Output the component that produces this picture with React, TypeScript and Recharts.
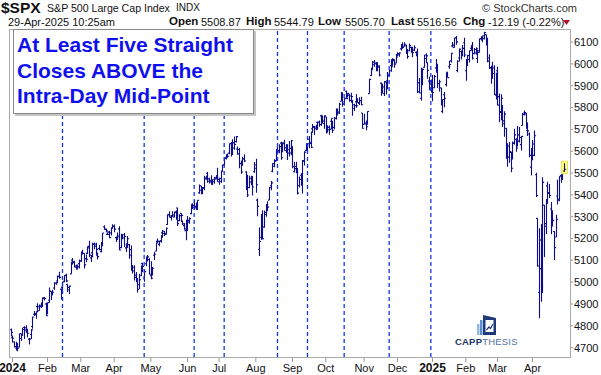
import React from 'react'
import { ComposedChart, Bar, XAxis, YAxis, ReferenceLine } from 'recharts'

// daily OHLC, [day, open, high, low, close]
const DEC_2023 = [[29, 4782, 4788, 4751, 4770]]
const JAN_2024 = [
  [2, 4745, 4755, 4723, 4743], [3, 4726, 4729, 4700, 4705], [4, 4698, 4727, 4688, 4689], [5, 4690, 4721, 4683, 4697],
  [8, 4703, 4764, 4700, 4764], [9, 4742, 4765, 4730, 4757], [10, 4759, 4791, 4757, 4783], [11, 4792, 4798, 4740, 4780],
  [12, 4791, 4803, 4768, 4784], [16, 4772, 4783, 4748, 4766], [17, 4739, 4744, 4714, 4739], [18, 4760, 4785, 4740, 4781],
  [19, 4797, 4842, 4786, 4840], [22, 4853, 4868, 4845, 4851], [23, 4856, 4866, 4832, 4865], [24, 4888, 4903, 4863, 4869],
  [25, 4887, 4898, 4869, 4894], [26, 4888, 4907, 4881, 4891], [29, 4892, 4929, 4887, 4928], [30, 4925, 4932, 4916, 4925],
  [31, 4900, 4907, 4845, 4846],
]
const FEB_2024 = [
  [1, 4862, 4906, 4853, 4906], [2, 4917, 4975, 4906, 4959], [5, 4957, 4957, 4918, 4942], [6, 4950, 4965, 4941, 4954],
  [7, 4973, 5000, 4965, 4995], [8, 4995, 5000, 4988, 4998], [9, 5005, 5030, 5000, 5027], [12, 5027, 5048, 5016, 5022],
  [13, 4968, 4971, 4920, 4953], [14, 4976, 5002, 4963, 5001], [15, 5004, 5032, 4999, 5030], [16, 5032, 5039, 4999, 5006],
  [20, 4989, 4993, 4955, 4976], [21, 4964, 4983, 4946, 4982], [22, 5038, 5094, 5038, 5087], [23, 5101, 5111, 5081, 5089],
  [26, 5093, 5098, 5068, 5069], [27, 5074, 5080, 5057, 5078], [28, 5067, 5077, 5058, 5070], [29, 5085, 5104, 5062, 5096],
]
const MAR_2024 = [
  [1, 5098, 5140, 5094, 5137], [4, 5130, 5149, 5127, 5131], [5, 5132, 5132, 5062, 5079], [6, 5108, 5127, 5091, 5105],
  [7, 5132, 5165, 5129, 5157], [8, 5164, 5190, 5115, 5124], [11, 5111, 5124, 5092, 5118], [12, 5134, 5180, 5114, 5175],
  [13, 5173, 5180, 5151, 5165], [14, 5175, 5180, 5127, 5150], [15, 5124, 5136, 5104, 5117], [18, 5154, 5170, 5146, 5149],
  [19, 5140, 5179, 5137, 5178], [20, 5182, 5224, 5164, 5225], [21, 5254, 5261, 5240, 5241], [22, 5243, 5246, 5229, 5234],
  [25, 5219, 5229, 5216, 5218], [26, 5229, 5235, 5203, 5204], [27, 5226, 5249, 5214, 5248], [28, 5248, 5265, 5246, 5254],
]
const APR_2024 = [
  [1, 5257, 5264, 5229, 5243], [2, 5204, 5209, 5184, 5205], [3, 5194, 5228, 5194, 5211], [4, 5244, 5256, 5146, 5147],
  [5, 5158, 5222, 5157, 5204], [8, 5211, 5219, 5197, 5202], [9, 5217, 5225, 5161, 5209], [10, 5157, 5178, 5138, 5161],
  [11, 5173, 5212, 5158, 5199], [12, 5172, 5175, 5107, 5123], [15, 5149, 5168, 5052, 5062], [16, 5065, 5079, 5040, 5051],
  [17, 5068, 5077, 5008, 5022], [18, 5032, 5046, 4999, 5011], [19, 5005, 5019, 4953, 4967], [22, 4988, 5038, 4969, 5011],
  [23, 5029, 5076, 5028, 5071], [24, 5085, 5089, 5047, 5072], [25, 5019, 5058, 5002, 5048], [26, 5084, 5114, 5073, 5100],
  [29, 5115, 5124, 5095, 5116], [30, 5104, 5110, 5035, 5036],
]
const MAY_2024 = [
  [1, 5029, 5096, 5013, 5018], [2, 5050, 5069, 5030, 5064], [3, 5123, 5139, 5101, 5128], [6, 5143, 5181, 5142, 5181],
  [7, 5187, 5200, 5178, 5187], [8, 5173, 5191, 5165, 5188], [9, 5189, 5215, 5181, 5214], [10, 5226, 5239, 5203, 5223],
  [13, 5233, 5234, 5211, 5221], [14, 5221, 5250, 5217, 5247], [15, 5264, 5311, 5263, 5308], [16, 5310, 5325, 5297, 5297],
  [17, 5303, 5305, 5283, 5303], [20, 5305, 5325, 5300, 5308], [21, 5298, 5324, 5297, 5321], [22, 5320, 5330, 5286, 5307],
  [23, 5340, 5342, 5257, 5268], [24, 5282, 5311, 5279, 5305], [28, 5315, 5315, 5279, 5306], [29, 5278, 5282, 5262, 5267],
  [30, 5259, 5271, 5240, 5236], [31, 5244, 5280, 5192, 5278],
]
const JUN_2024 = [
  [3, 5283, 5303, 5234, 5283], [4, 5275, 5297, 5268, 5291], [5, 5314, 5354, 5311, 5354], [6, 5357, 5362, 5335, 5352],
  [7, 5343, 5376, 5331, 5347], [10, 5341, 5365, 5331, 5360], [11, 5353, 5375, 5331, 5375], [12, 5409, 5447, 5405, 5421],
  [13, 5441, 5441, 5402, 5434], [14, 5424, 5432, 5404, 5432], [17, 5431, 5488, 5421, 5473], [18, 5477, 5486, 5469, 5487],
  [20, 5499, 5505, 5455, 5473], [21, 5462, 5478, 5452, 5465], [24, 5459, 5490, 5447, 5448], [25, 5461, 5472, 5446, 5469],
  [26, 5460, 5483, 5451, 5478], [27, 5473, 5490, 5471, 5483], [28, 5488, 5524, 5460, 5460],
]
const JUL_2024 = [
  [1, 5471, 5479, 5446, 5475], [2, 5462, 5510, 5454, 5509], [3, 5507, 5539, 5507, 5537], [5, 5537, 5570, 5531, 5567],
  [8, 5572, 5583, 5562, 5572], [9, 5584, 5590, 5574, 5577], [10, 5591, 5635, 5586, 5634], [11, 5636, 5642, 5576, 5585],
  [12, 5590, 5655, 5584, 5615], [15, 5638, 5667, 5607, 5631], [16, 5644, 5670, 5640, 5667], [17, 5610, 5622, 5584, 5588],
  [18, 5608, 5615, 5522, 5545], [19, 5543, 5557, 5497, 5505], [22, 5545, 5575, 5533, 5564], [23, 5566, 5586, 5550, 5555],
  [24, 5505, 5508, 5422, 5427], [25, 5429, 5492, 5390, 5399], [26, 5434, 5488, 5430, 5459], [29, 5476, 5488, 5444, 5464],
  [30, 5478, 5486, 5397, 5436], [31, 5506, 5551, 5501, 5522],
]
const AUG_2024 = [
  [1, 5537, 5566, 5410, 5446], [2, 5376, 5383, 5302, 5347], [5, 5151, 5250, 5120, 5186], [6, 5206, 5312, 5194, 5240],
  [7, 5294, 5330, 5195, 5199], [8, 5252, 5328, 5249, 5319], [9, 5310, 5358, 5300, 5344], [12, 5351, 5371, 5325, 5344],
  [13, 5376, 5436, 5376, 5434], [14, 5442, 5464, 5421, 5455], [15, 5508, 5545, 5504, 5543], [16, 5531, 5563, 5526, 5554],
  [19, 5557, 5609, 5555, 5608], [20, 5602, 5620, 5585, 5597], [21, 5603, 5632, 5591, 5621], [22, 5637, 5643, 5561, 5570],
  [23, 5602, 5641, 5595, 5634], [26, 5639, 5652, 5602, 5616], [27, 5602, 5632, 5593, 5626], [28, 5629, 5632, 5560, 5592],
  [29, 5607, 5647, 5576, 5592], [30, 5613, 5651, 5581, 5648],
]
const SEP_2024 = [
  [3, 5623, 5623, 5522, 5529], [4, 5506, 5552, 5503, 5520], [5, 5530, 5552, 5499, 5503], [6, 5507, 5523, 5402, 5408],
  [9, 5442, 5484, 5434, 5471], [10, 5490, 5497, 5442, 5496], [11, 5496, 5560, 5406, 5554], [12, 5557, 5600, 5535, 5596],
  [13, 5604, 5636, 5601, 5626], [16, 5615, 5636, 5604, 5634], [17, 5655, 5670, 5614, 5635], [18, 5641, 5690, 5615, 5618],
  [19, 5703, 5725, 5685, 5713], [20, 5709, 5715, 5674, 5703], [23, 5711, 5721, 5696, 5718], [24, 5733, 5736, 5698, 5733],
  [25, 5733, 5741, 5712, 5722], [26, 5762, 5767, 5717, 5745], [27, 5756, 5764, 5727, 5738], [30, 5727, 5765, 5703, 5762],
]
const OCT_2024 = [
  [1, 5757, 5757, 5681, 5709], [2, 5698, 5719, 5685, 5709], [3, 5698, 5718, 5675, 5700], [4, 5737, 5751, 5701, 5751],
  [7, 5737, 5739, 5683, 5696], [8, 5709, 5757, 5701, 5751], [9, 5751, 5796, 5745, 5792], [10, 5778, 5796, 5764, 5780],
  [11, 5775, 5822, 5771, 5815], [14, 5829, 5871, 5829, 5859], [15, 5866, 5870, 5804, 5815], [16, 5816, 5843, 5810, 5842],
  [17, 5875, 5878, 5840, 5841], [18, 5860, 5866, 5846, 5865], [21, 5857, 5863, 5827, 5853], [22, 5833, 5868, 5822, 5851],
  [23, 5834, 5834, 5762, 5797], [24, 5813, 5817, 5784, 5809], [25, 5826, 5862, 5799, 5808], [28, 5833, 5843, 5823, 5823],
  [29, 5819, 5847, 5812, 5832], [30, 5832, 5850, 5811, 5813], [31, 5775, 5775, 5703, 5705],
]
const NOV_2024 = [
  [1, 5723, 5772, 5723, 5729], [4, 5725, 5741, 5696, 5712], [5, 5722, 5783, 5722, 5782], [6, 5864, 5932, 5864, 5929],
  [7, 5947, 5983, 5945, 5973], [8, 5976, 6013, 5976, 5996], [11, 6008, 6018, 5987, 6001], [12, 6004, 6009, 5966, 5984],
  [13, 5985, 6008, 5966, 5985], [14, 5990, 5994, 5942, 5949], [15, 5912, 5915, 5854, 5871], [18, 5874, 5909, 5865, 5894],
  [19, 5863, 5922, 5853, 5917], [20, 5918, 5920, 5860, 5917], [21, 5923, 5963, 5884, 5949], [22, 5945, 5973, 5944, 5969],
  [25, 5992, 6021, 5964, 5987], [26, 6000, 6026, 5992, 6021], [27, 6015, 6021, 5983, 5999], [29, 6004, 6045, 6004, 6032],
]
const DEC_2024 = [
  [2, 6040, 6053, 6036, 6047], [3, 6042, 6053, 6033, 6050], [4, 6069, 6089, 6061, 6087], [5, 6089, 6099, 6069, 6075],
  [6, 6081, 6099, 6079, 6090], [9, 6083, 6088, 6045, 6053], [10, 6058, 6068, 6024, 6034], [11, 6060, 6093, 6058, 6084],
  [12, 6075, 6079, 6051, 6051], [13, 6068, 6079, 6030, 6051], [16, 6063, 6085, 6059, 6074], [17, 6053, 6058, 6035, 6050],
  [18, 6048, 6071, 5867, 5872], [19, 5913, 5935, 5866, 5867], [20, 5843, 5982, 5832, 5931], [23, 5941, 5979, 5902, 5975],
  [24, 5985, 6041, 5983, 6041], [26, 6025, 6049, 6007, 6037], [27, 6006, 6007, 5932, 5971], [30, 5921, 5941, 5879, 5907],
  [31, 5920, 5929, 5869, 5882],
]
const JAN_2025 = [
  [2, 5903, 5949, 5829, 5869], [3, 5891, 5949, 5888, 5942], [6, 5982, 6022, 5960, 5975], [7, 5993, 6001, 5890, 5909],
  [8, 5910, 5927, 5874, 5918], [10, 5890, 5890, 5809, 5827], [13, 5782, 5837, 5774, 5837], [14, 5859, 5871, 5802, 5843],
  [15, 5905, 5960, 5896, 5950], [16, 5962, 5964, 5938, 5937], [17, 5987, 6014, 5978, 5997], [21, 6014, 6051, 6007, 6049],
  [22, 6082, 6100, 6076, 6086], [23, 6076, 6119, 6075, 6119], [24, 6121, 6128, 6088, 6101], [27, 5970, 6017, 5962, 6012],
  [28, 6027, 6071, 6011, 6068], [29, 6057, 6062, 6020, 6039], [30, 6051, 6087, 6035, 6071], [31, 6097, 6120, 6030, 6041],
]
const FEB_2025 = [
  [3, 5969, 6022, 5923, 5995], [4, 5998, 6042, 5990, 6038], [5, 6020, 6062, 6007, 6061], [6, 6072, 6084, 6060, 6084],
  [7, 6083, 6101, 6020, 6026], [10, 6047, 6073, 6044, 6066], [11, 6050, 6076, 6042, 6069], [12, 6025, 6064, 6004, 6052],
  [13, 6060, 6116, 6051, 6115], [14, 6116, 6127, 6107, 6115], [18, 6121, 6129, 6099, 6129], [19, 6117, 6147, 6112, 6144],
  [20, 6134, 6134, 6084, 6117], [21, 6114, 6115, 6008, 6013], [24, 6027, 6044, 5977, 5983], [25, 5982, 5992, 5909, 5955],
  [26, 5970, 6010, 5932, 5956], [27, 5981, 5994, 5858, 5861], [28, 5857, 5959, 5837, 5955],
]
const MAR_2025 = [
  [3, 5969, 5987, 5810, 5850], [4, 5811, 5865, 5733, 5778], [5, 5782, 5861, 5742, 5843], [6, 5787, 5812, 5711, 5739],
  [7, 5726, 5783, 5666, 5770], [10, 5705, 5706, 5565, 5614], [11, 5603, 5636, 5529, 5573], [12, 5624, 5642, 5547, 5599],
  [13, 5594, 5597, 5504, 5522], [14, 5563, 5645, 5563, 5639], [17, 5635, 5703, 5631, 5675], [18, 5655, 5659, 5598, 5615],
  [19, 5632, 5715, 5622, 5675], [20, 5646, 5711, 5640, 5663], [21, 5630, 5670, 5603, 5668], [24, 5718, 5775, 5718, 5768],
  [25, 5775, 5786, 5764, 5777], [26, 5771, 5776, 5703, 5712], [27, 5696, 5732, 5670, 5693], [28, 5679, 5686, 5572, 5581],
  [31, 5527, 5615, 5489, 5612],
]
const APR_2025 = [
  [1, 5597, 5651, 5558, 5633], [2, 5581, 5695, 5578, 5671], [3, 5492, 5501, 5390, 5397], [4, 5292, 5293, 5070, 5074],
  [7, 4954, 5247, 4835, 5062], [8, 5193, 5267, 4910, 4982], [9, 4966, 5481, 4950, 5457], [10, 5353, 5353, 5115, 5268],
  [11, 5256, 5381, 5221, 5363], [14, 5441, 5460, 5359, 5406], [15, 5411, 5450, 5386, 5397], [16, 5335, 5367, 5220, 5276],
  [17, 5305, 5329, 5255, 5283], [21, 5232, 5233, 5101, 5158], [22, 5207, 5309, 5207, 5288], [23, 5395, 5469, 5356, 5376],
  [24, 5381, 5485, 5371, 5485], [25, 5489, 5528, 5456, 5525], [28, 5529, 5553, 5468, 5529], [29, 5509, 5545, 5506, 5517],
]

const MONTHS: [string, number[][]][] = [
  ['2023-12', DEC_2023], ['2024-01', JAN_2024], ['2024-02', FEB_2024], ['2024-03', MAR_2024],
  ['2024-04', APR_2024], ['2024-05', MAY_2024], ['2024-06', JUN_2024], ['2024-07', JUL_2024],
  ['2024-08', AUG_2024], ['2024-09', SEP_2024], ['2024-10', OCT_2024], ['2024-11', NOV_2024],
  ['2024-12', DEC_2024], ['2025-01', JAN_2025], ['2025-02', FEB_2025], ['2025-03', MAR_2025],
  ['2025-04', APR_2025],
]

const TICK_DATES = [
  '2024-01-02', '2024-02-01', '2024-03-01', '2024-04-01', '2024-05-01', '2024-06-03', '2024-07-01', '2024-08-01',
  '2024-09-03', '2024-10-01', '2024-11-01', '2024-12-02', '2025-01-02', '2025-02-03', '2025-03-03', '2025-04-01',
]
const TICK_LABELS = ['2024', 'Feb', 'Mar', 'Apr', 'May', 'Jun', 'Jul', 'Aug', 'Sep', 'Oct', 'Nov', 'Dec', '2025', 'Feb', 'Mar', 'Apr']

// fifth straight close above the mid-point
const MARKER_DATES = [
  '2024-02-14', '2024-04-25', '2024-06-07', '2024-07-05', '2024-08-20',
  '2024-09-16', '2024-10-16', '2024-11-22', '2024-12-31',
]

const PRICE_TICKS = [4700, 4800, 4900, 5000, 5100, 5200, 5300, 5400, 5500, 5600, 5700, 5800, 5900, 6000, 6100]

// header quote line: [label, value, left px of label, left px of value]
const QUOTE = [
  ['Open', '5508.87', 169, 201],
  ['High', '5544.79', 246, 274],
  ['Low', '5505.70', 318, 345],
  ['Last', '5516.56', 391, 417],
  ['Chg', '-12.19 (-0.22%)', 463, 488],
] as const

const data = MONTHS.flatMap(([ym, rows]) =>
  rows.map(([d, o, h, l, c]) => ({
    date: `${ym}-${String(d).padStart(2, '0')}`,
    open: o,
    high: h,
    low: l,
    close: c,
    range: [l, h],
  }))
)

const FONT = '"Liberation Sans", Arial, sans-serif'
const BAR_COLOR = '#0c0c8c'
const MARKER_COLOR = '#1236f0'

const OhlcShape = (props: any) => {
  const { x, y, width, height, payload, index } = props
  if (height == null || isNaN(y)) return null
  const top = Math.min(y, y + height)
  const h = Math.abs(height)
  const span = payload.high - payload.low || 1
  const cx = Math.round(x + width / 2) + 0.5
  const yo = top + ((payload.high - payload.open) / span) * h
  const yc = top + ((payload.high - payload.close) / span) * h
  const last = index === data.length - 1
  return (
    <g>
      {last && <rect x={cx - 3} y={top - 2} width={6} height={h + 4} fill="#ffff70" stroke="#e8e070" />}
      <path
        d={`M${cx},${top}V${top + h}M${cx - 1.5},${yo}H${cx}M${cx},${yc}H${cx + 1.6}`}
        stroke={BAR_COLOR}
        strokeWidth={1.1}
        fill="none"
      />
    </g>
  )
}

const XTick = (props: any) => {
  const { x, y, payload } = props
  const i = TICK_DATES.indexOf(payload.value)
  const label = TICK_LABELS[i] ?? ''
  const isYear = /^\d{4}$/.test(label)
  return (
    <text
      x={x}
      y={y}
      dy={9}
      textAnchor="middle"
      fontSize={isYear ? 12 : 11}
      fontWeight={isYear ? 'bold' : 'normal'}
      fontFamily={FONT}
      fill="#111"
    >
      {label}
    </text>
  )
}

const Logo = () => (
  <svg width={80} height={40} style={{ position: 'absolute', left: 450, top: 312 }}>
    <rect x={27} y={12} width={2.5} height={11} fill="#8fb8e6" />
    <rect x={30} y={8} width={2.5} height={15} fill="#5d8fd0" />
    <path d="M33,3 L46,6 L46,23 L33,23 Z" fill="#1e3a78" />
    <rect x={35.5} y={8} width={8} height={12} fill="#fff" />
    <path d="M36.5,18 L39,15 L40.5,16.5 L43,12" stroke="#1e3a78" strokeWidth={1.2} fill="none" />
    <text x={5} y={33} fontSize={9.5} fontFamily={FONT} letterSpacing={0.2}>
      <tspan fill="#1e3464" fontWeight="bold">CAPP</tspan>
      <tspan fill="#56739f">THESIS</tspan>
    </text>
  </svg>
)

const abs = (left: number, top: number, extra: React.CSSProperties = {}): React.CSSProperties => ({
  position: 'absolute', left, top, whiteSpace: 'nowrap', color: '#111', ...extra,
})

export default function App() {
  return (
    <div style={{ position: 'absolute', left: 0, top: 0, width: 601, height: 375, background: '#fff', fontFamily: FONT }}>
      <ComposedChart width={601} height={375} data={data} margin={{ top: 29, right: 0, bottom: 0, left: 9 }}>
        <XAxis
          dataKey="date"
          ticks={TICK_DATES}
          interval={0}
          tick={<XTick />}
          tickSize={5}
          tickMargin={1}
          tickLine={{ stroke: '#999' }}
          axisLine={false}
          padding={{ left: 1, right: 5 }}
          height={18}
        />
        <YAxis
          orientation="right"
          domain={[4657, 6160]}
          allowDataOverflow
          ticks={PRICE_TICKS}
          interval={0}
          width={31}
          tickSize={3}
          tickMargin={1}
          tickLine={{ stroke: '#999' }}
          axisLine={false}
          tick={{ fontSize: 11, fill: '#111', fontFamily: FONT }}
        />
        {MARKER_DATES.map(d => (
          <ReferenceLine key={d} x={d} stroke={MARKER_COLOR} strokeWidth={1.3} strokeDasharray="4 3" />
        ))}
        <Bar dataKey="range" isAnimationActive={false} shape={OhlcShape} />
      </ComposedChart>

      <div
        style={{
          position: 'absolute', left: 9, top: 29, width: 560, height: 327,
          border: '1px solid #aaa', pointerEvents: 'none',
        }}
      />

      <div style={abs(1, 0, { fontSize: 15.5, lineHeight: '15px', fontWeight: 'bold' })}>$SPX</div>
      <div style={abs(47, 2, { fontSize: 10.6, lineHeight: '12px' })}>S&amp;P 500 Large Cap Index</div>
      <div style={abs(176, 2, { fontSize: 10, lineHeight: '12px' })}>INDX</div>
      <div style={abs(482, 2, { fontSize: 11, lineHeight: '12px', color: '#333' })}>© StockCharts.com</div>
      <div style={abs(8, 16, { fontSize: 11, lineHeight: '12px' })}>29-Apr-2025 10:25am</div>
      {QUOTE.map(([label, value, lx, vx]) => (
        <React.Fragment key={label}>
          <div style={abs(lx, 15, { fontSize: 11.5, lineHeight: '13px', fontWeight: 'bold' })}>{label}</div>
          <div style={abs(vx, 16, { fontSize: 11, lineHeight: '12px' })}>{value}</div>
        </React.Fragment>
      ))}
      <svg width={8} height={6} style={{ position: 'absolute', left: 563, top: 20 }}>
        <path d="M0,0 L7,0 L3.5,5 Z" fill="#b0102a" />
      </svg>

      <div
        style={{
          position: 'absolute', left: 13, top: 29, width: 236, height: 81,
          background: '#fff', border: '1px solid #888', boxShadow: '2px 2px 0 #c4c4c4',
          color: '#1010ee', fontWeight: 'bold', fontSize: 21, lineHeight: '25.5px',
          padding: '2px 0 0 3px', boxSizing: 'content-box',
        }}
      >
        At Least Five Straight<br />Closes ABOVE the<br />Intra-Day Mid-Point
      </div>

      <Logo />
    </div>
  )
}
